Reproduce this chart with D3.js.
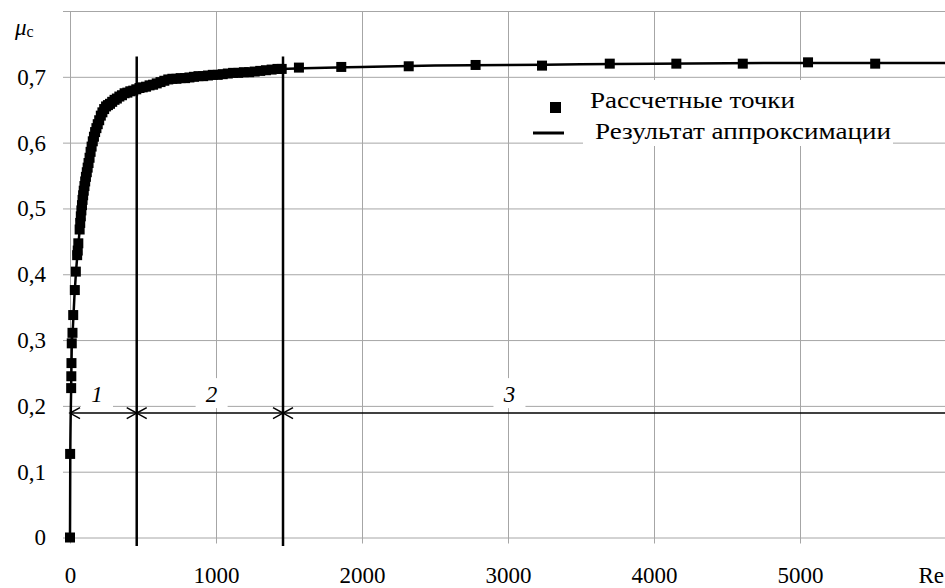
<!DOCTYPE html>
<html>
<head>
<meta charset="utf-8">
<script src="https://cdn.jsdelivr.net/npm/d3@7"></script>
<style>
body{margin:0;background:#fff;}
svg text{font-family:'Liberation Serif','Times New Roman','DejaVu Serif',serif !important;fill:#000;}
</style>
</head>
<body>
<div class="chart"></div>
<script>
// calculated points (Re, mu_c)
var pointsRe=[0,1,8,9,10,12,17,22,33,40,49,53,57,66,70,74,78,82,86,90,94,99,104,109,115,121,127,134,141,148,156,164,172,181,190,200,211,222,234,247,260,274,289,305,321,338,356,374,393,413,433,454,476,498,521,545,569,594,620,646,673,701,729,758,788,818,849,880,912,945,978,1012,1046,1081,1117,1153,1190,1227,1265,1303,1342,1381,1421,1450,1568,1858,2320,2778,3233,3697,4153,4608,5055,5515];
var pointsMu=[0,0.127,0.227,0.245,0.265,0.295,0.311,0.338,0.376,0.404,0.429,0.436,0.447,0.468,0.478,0.488,0.497,0.505,0.513,0.520,0.527,0.534,0.541,0.548,0.555,0.562,0.569,0.577,0.586,0.594,0.602,0.609,0.616,0.622,0.628,0.634,0.641,0.646,0.651,0.655,0.657,0.659,0.662,0.665,0.667,0.670,0.672,0.675,0.676,0.678,0.679,0.681,0.683,0.684,0.685,0.687,0.688,0.690,0.692,0.694,0.696,0.697,0.697,0.698,0.698,0.699,0.700,0.701,0.701,0.702,0.703,0.703,0.704,0.705,0.706,0.706,0.707,0.707,0.708,0.709,0.710,0.711,0.712,0.712,0.714,0.715,0.716,0.718,0.717,0.720,0.720,0.720,0.722,0.720];

// approximation curve
var fitRe=[0,2,8,12,20,30,40,50,60,70,80,100,120,140,160,180,200,250,300,350,400,450,500,600,700,800,1000,1200,1450,1600,2000,2500,3000,3500,4000,5000,6000];
var fitMu=[0,0.127,0.227,0.29,0.32,0.365,0.40,0.428,0.452,0.476,0.500,0.535,0.562,0.586,0.606,0.622,0.635,0.652,0.664,0.671,0.677,0.681,0.684,0.690,0.695,0.699,0.703,0.707,0.712,0.713,0.715,0.717,0.718,0.719,0.720,0.721,0.721];

var xTicks=[0,1000,2000,3000,4000,5000];
var yTicks=[0,0.1,0.2,0.3,0.4,0.5,0.6,0.7,0.8];

// zones of the flow
var zoneBounds=[0,457,1459,6000];
var zoneLabels=['1','2','3'];
var zoneLabelRe=[185,970,3010];
var arrowMu=0.189;

var legendNames=['Рассчетные точки','Результат аппроксимации'];

var W=945, H=588;
var FONT="'Liberation Serif','Times New Roman','DejaVu Serif',serif";
var FS='23px';
var svg=d3.select('.chart').append('svg')
    .attr('width',W).attr('height',H)
    .style('background','#fff')
    .style('font-family',FONT);

var x=d3.scaleLinear().domain([0,6000]).range([70,946]);
var y=d3.scaleLinear().domain([0,0.8]).range([537.5,11]);

var fmt=function(d){ return d===0 ? '0' : (d>=0.79 ? '' : d3.format('.1f')(d).replace('.',',')); };

// grid + axes
var gx=svg.append('g')
    .attr('transform','translate(0,'+y(0)+')')
    .call(d3.axisBottom(x).tickValues(xTicks).tickSizeInner(-(y(0)-y(0.8))).tickSizeOuter(0).tickPadding(29).tickFormat(d3.format('d')));
gx.attr('font-family',FONT);
gx.select('.domain').remove();
gx.selectAll('.tick line').attr('y1',6).attr('stroke','#a6a6a6');
gx.selectAll('.tick text').style('font-size',FS);

var gy=svg.append('g')
    .attr('transform','translate('+x(0)+',0)')
    .call(d3.axisLeft(y).tickValues(yTicks).tickSizeInner(-(x(6000)-x(0))).tickSizeOuter(0).tickPadding(24).tickFormat(fmt));
gy.attr('font-family',FONT);
gy.select('.domain').remove();
gy.selectAll('.tick line').attr('x1',-7).attr('stroke','#a6a6a6');
gy.selectAll('.tick text').style('font-size',FS);

// zone label backgrounds
svg.selectAll('.lblbg').data(zoneLabelRe).enter().append('rect')
    .attr('x',function(d){return x(d)-16;})
    .attr('y',y(arrowMu)-35)
    .attr('width',32).attr('height',30)
    .attr('fill','#fff');

// legend background
svg.append('rect').attr('x',583).attr('y',80).attr('width',310).attr('height',66).attr('fill','#fff');

// zone separators
svg.selectAll('.sep').data(zoneBounds.slice(1,3)).enter().append('line')
    .attr('x1',function(d){return x(d);}).attr('x2',function(d){return x(d);})
    .attr('y1',y(0.731)).attr('y2',y(-0.013))
    .attr('stroke','#000').attr('stroke-width',2.5);

// approximation line
var line=d3.line()
    .x(function(d,i){return x(fitRe[i]);})
    .y(function(d,i){return y(fitMu[i]);})
    .curve(d3.curveMonotoneX);
svg.append('path').datum(fitRe)
    .attr('d',line)
    .attr('fill','none').attr('stroke','#000').attr('stroke-width',2.5);

// points
var ms=10;
svg.selectAll('.pt').data(pointsRe).enter().append('rect')
    .attr('x',function(d){return x(d)-ms/2;})
    .attr('y',function(d,i){return y(pointsMu[i])-ms/2;})
    .attr('width',ms).attr('height',ms)
    .attr('fill','#000');

// zone arrows
var ay=y(arrowMu);
for (var i=0;i<3;i++){
    var xa=x(zoneBounds[i]), xb=Math.min(x(zoneBounds[i+1]),W);
    svg.append('line').attr('x1',xa).attr('x2',xb).attr('y1',ay).attr('y2',ay)
        .attr('stroke','#000').attr('stroke-width',1.5);
    svg.append('path').attr('d','M'+(xa+10)+','+(ay-5.5)+' L'+xa+','+ay+' L'+(xa+10)+','+(ay+5.5))
        .attr('fill','none').attr('stroke','#000').attr('stroke-width',1.5);
    if (i<2){
        svg.append('path').attr('d','M'+(xb-10)+','+(ay-5.5)+' L'+xb+','+ay+' L'+(xb-10)+','+(ay+5.5))
            .attr('fill','none').attr('stroke','#000').attr('stroke-width',1.5);
    }
    svg.append('text').attr('x',x(zoneLabelRe[i])).attr('y',ay-11)
        .attr('text-anchor','middle').style('font-size',FS).style('font-style','italic')
        .text(zoneLabels[i]);
}

// legend
svg.append('rect').attr('x',550).attr('y',102).attr('width',11).attr('height',11).attr('fill','#000');
svg.append('line').attr('x1',533).attr('x2',564).attr('y1',133).attr('y2',133)
    .attr('stroke','#000').attr('stroke-width',3);
svg.append('text').attr('x',590).attr('y',108).style('font-size',FS)
    .attr('textLength',205).attr('lengthAdjust','spacingAndGlyphs').text(legendNames[0]);
svg.append('text').attr('x',595).attr('y',139).style('font-size',FS)
    .attr('textLength',296).attr('lengthAdjust','spacingAndGlyphs').text(legendNames[1]);

// axis titles
var t=svg.append('text').attr('x',15).attr('y',35).style('font-size',FS);
t.append('tspan').style('font-style','italic').text('μ');
t.append('tspan').attr('dy',2).style('font-size','16px').text('c');
svg.append('text').attr('x',944).attr('y',583).attr('text-anchor','end').style('font-size',FS).text('Re');
</script>
</body>
</html>
